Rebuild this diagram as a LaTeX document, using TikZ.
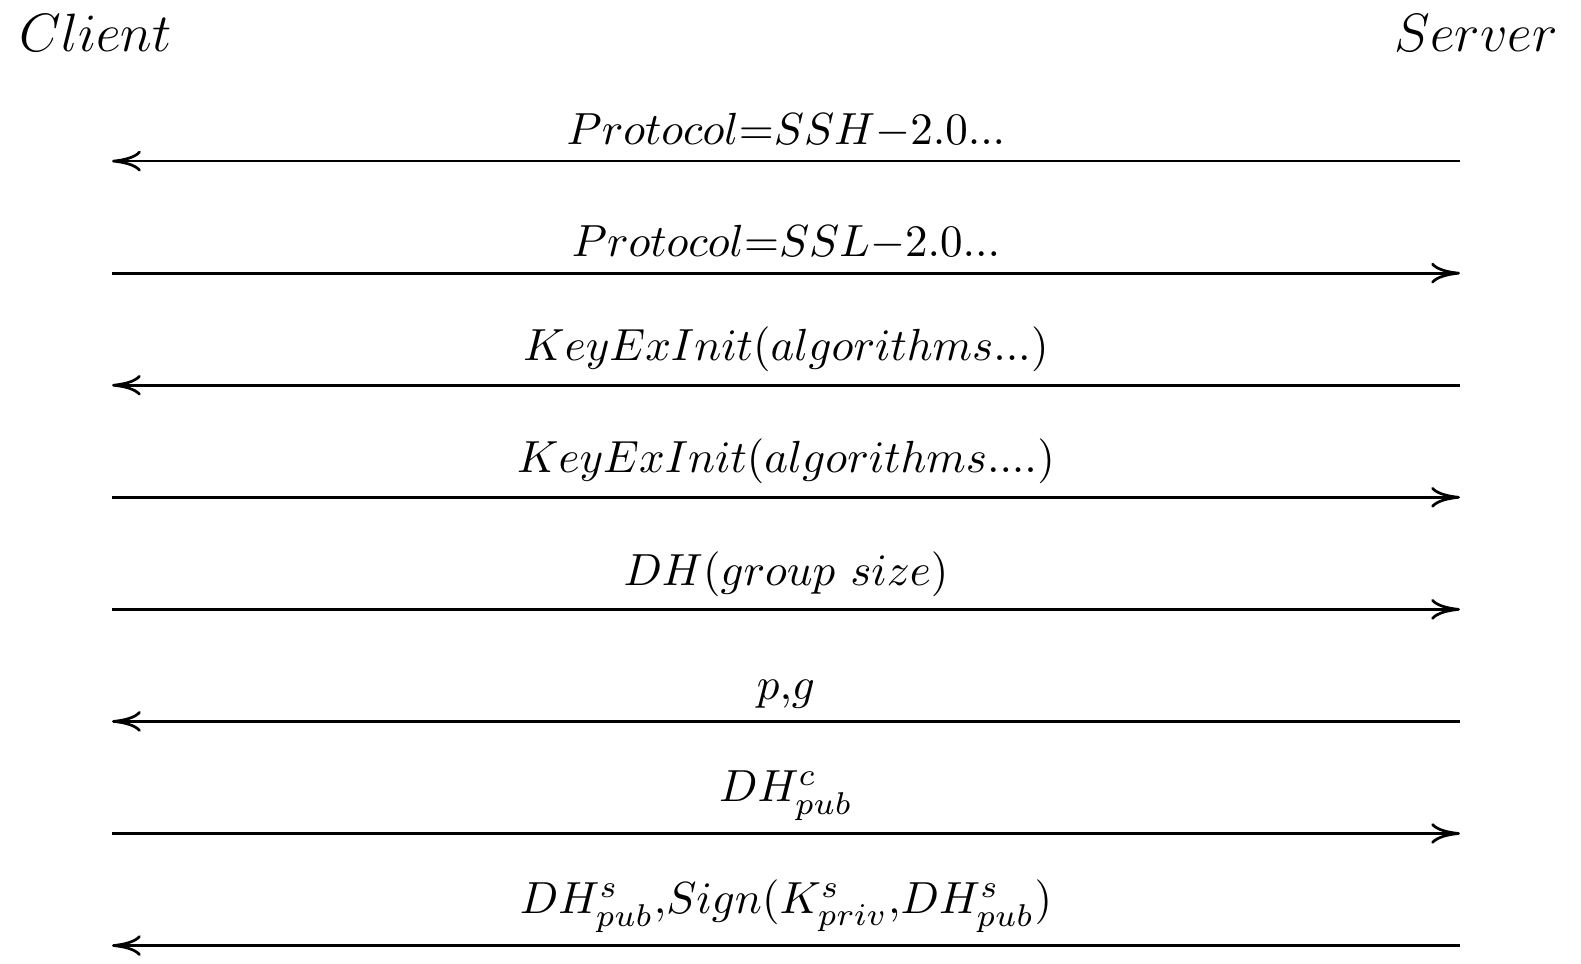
\documentclass[tikz,border=0pt]{standalone}
\usepackage{amsmath}
\usetikzlibrary{positioning, arrows.meta}
\begin{document}
\begin{tikzpicture}[
    x=1pt, y=1pt,
    >={To[length=6.4pt, width=4.6pt]},
    party/.style={font=\large, inner sep=0pt},
    msg/.style={line width=0.6pt},
    lbl/.style={above, inner sep=2.6pt}
]
\useasboundingbox (0,0) rectangle (351.3,-214);

% the two parties
\node[party] (client) at (21.2,-7.3) {$Client$};
\node[party] (server) at (328,-7.3) {$Server$};

% end points of the messages, one row each
\foreach \i in {1,...,8} {
    \coordinate (c\i) at (24.9,{-35.8-24.9*(\i-1)});
    \coordinate (s\i) at (324.4,{-35.8-24.9*(\i-1)});
}

% version exchange
\draw[msg, ->] (s1) -- node[lbl] {$Protocol{=}SSH{-}2.0...$} (c1);
\draw[msg, ->] (c2) -- node[lbl] {$Protocol{=}SSL{-}2.0...$} (s2);

% algorithm negotiation
\draw[msg, ->] (s3) -- node[lbl] {$KeyExInit(algorithms...)$} (c3);
\draw[msg, ->] (c4) -- node[lbl] {$KeyExInit(algorithms....)$} (s4);

% Diffie-Hellman group exchange
\draw[msg, ->] (c5) -- node[lbl] {$DH(group\ size)$} (s5);
\draw[msg, ->] (s6) -- node[lbl] {$p{,}g$} (c6);
\draw[msg, ->] (c7) -- node[lbl] {$DH^c_{pub}$} (s7);
\draw[msg, ->] (s8) -- node[lbl] {$DH^s_{pub}{,}Sign(K^s_{priv}{,}DH^s_{pub})$} (c8);

\end{tikzpicture}
\end{document}
